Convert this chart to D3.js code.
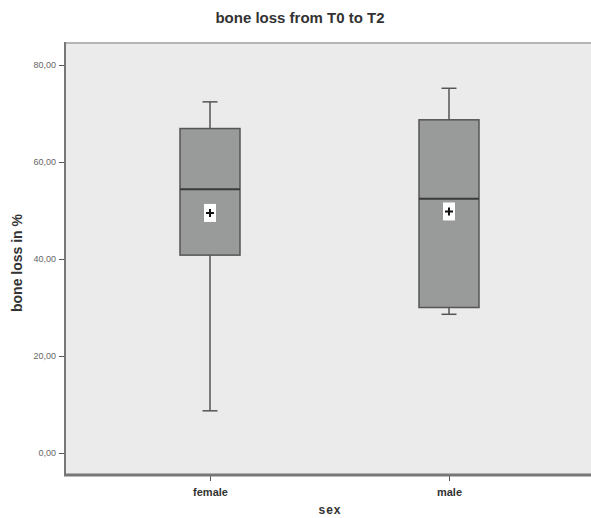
<!DOCTYPE html>
<html>
<head>
<meta charset="utf-8">
<script src="https://cdn.jsdelivr.net/npm/d3@7"></script>
<style>
  body { margin: 0; background: #fff; }
  text { font-family: "Liberation Sans", Arial, sans-serif; }
</style>
</head>
<body>
<svg id="chart" width="591" height="518"></svg>
<script>
const groups = ["female", "male"]
const whiskerLow = [8.7, 28.6]
const q1 = [40.8, 30.0]
const median = [54.4, 52.4]
const q3 = [66.9, 68.7]
const whiskerHigh = [72.4, 75.2]
const means = [49.5, 49.8]
const yTicks = [0, 20, 40, 60, 80]

const svg = d3.select('#chart')
const plotLeft = 65, plotTop = 43, plotRight = 591, plotBottom = 475

const x = d3.scalePoint()
    .domain(groups)
    .range([210, 449])

const y = d3.scaleLinear()
    .domain([0, 80])
    .range([453, 65])

// fondo del area de trazado
svg.append('rect')
    .attr('x', plotLeft)
    .attr('y', plotTop)
    .attr('width', plotRight - plotLeft)
    .attr('height', plotBottom - plotTop)
    .attr('fill', '#eaebea')

svg.append('line')
    .attr('x1', plotLeft).attr('x2', plotRight)
    .attr('y1', plotTop).attr('y2', plotTop)
    .attr('stroke', '#b5b5b5').attr('stroke-width', 2)

// ejes
const yAxis = svg.append('g')
    .attr('transform', `translate(${plotLeft},0)`)
    .call(d3.axisLeft(y).tickValues(yTicks).tickSize(6).tickPadding(3)
        .tickFormat(d => d3.format('.2f')(d).replace('.', ',')))
yAxis.select('.domain').remove()
yAxis.selectAll('line').attr('stroke', '#555')
yAxis.selectAll('text').attr('fill', '#666').style('font-size', '9px')

svg.append('line')
    .attr('x1', plotLeft).attr('x2', plotLeft)
    .attr('y1', plotTop - 1).attr('y2', plotBottom + 1)
    .attr('stroke', '#777').attr('stroke-width', 2)

const xAxis = svg.append('g')
    .attr('transform', `translate(0,${plotBottom})`)
    .call(d3.axisBottom(x).tickSize(6).tickPadding(7))
xAxis.select('.domain').remove()
xAxis.selectAll('line').attr('stroke', '#555')
xAxis.selectAll('text').attr('fill', '#333').style('font-size', '11px').style('font-weight', 'bold')

svg.append('line')
    .attr('x1', plotLeft - 1).attr('x2', plotRight)
    .attr('y1', plotBottom).attr('y2', plotBottom)
    .attr('stroke', '#777').attr('stroke-width', 3)

const data = groups.map((g, i) => ({
    g, lo: whiskerLow[i], q1: q1[i], med: median[i], q3: q3[i], hi: whiskerHigh[i], mean: means[i]
}))

const boxW = 60, capW = 15
const boxes = svg.append('g')
    .selectAll('g')
    .data(data)
    .join('g')
    .attr('transform', d => `translate(${x(d.g)},0)`)

boxes.append('line')
    .attr('y1', d => y(d.hi)).attr('y2', d => y(d.lo))
    .attr('stroke', '#555').attr('stroke-width', 1.5)

boxes.selectAll('.cap')
    .data(d => [d.lo, d.hi])
    .join('line')
    .attr('class', 'cap')
    .attr('x1', -capW / 2).attr('x2', capW / 2)
    .attr('y1', d => y(d)).attr('y2', d => y(d))
    .attr('stroke', '#555').attr('stroke-width', 1.5)

boxes.append('rect')
    .attr('x', -boxW / 2)
    .attr('width', boxW)
    .attr('y', d => y(d.q3))
    .attr('height', d => y(d.q1) - y(d.q3))
    .attr('fill', '#999a9a')
    .attr('stroke', '#555').attr('stroke-width', 1.5)

boxes.append('line')
    .attr('x1', -boxW / 2).attr('x2', boxW / 2)
    .attr('y1', d => y(d.med)).attr('y2', d => y(d.med))
    .attr('stroke', '#3a3a3a').attr('stroke-width', 2)

// marcador de la media
boxes.append('rect')
    .attr('x', -6).attr('width', 12)
    .attr('y', d => y(d.mean) - 9).attr('height', 18)
    .attr('fill', '#fff')
boxes.append('path')
    .attr('d', d => `M-4,${y(d.mean)}H4M0,${y(d.mean) - 4}V${y(d.mean) + 4}`)
    .attr('stroke', '#111').attr('stroke-width', 2)

// titulos
svg.append('text')
    .attr('x', 300).attr('y', 23)
    .attr('text-anchor', 'middle')
    .style('font-size', '15px').style('font-weight', 'bold').attr('fill', '#333')
    .text('bone loss from T0 to T2')

svg.append('text')
    .attr('transform', 'translate(22,263) rotate(-90)')
    .attr('text-anchor', 'middle')
    .style('font-size', '14px').style('font-weight', 'bold').attr('fill', '#333')
    .text('bone loss in %')

svg.append('text')
    .attr('x', 330).attr('y', 514)
    .attr('text-anchor', 'middle')
    .style('font-size', '12px').style('font-weight', 'bold').style('letter-spacing', '1px').attr('fill', '#333')
    .text('sex')
</script>
</body>
</html>
